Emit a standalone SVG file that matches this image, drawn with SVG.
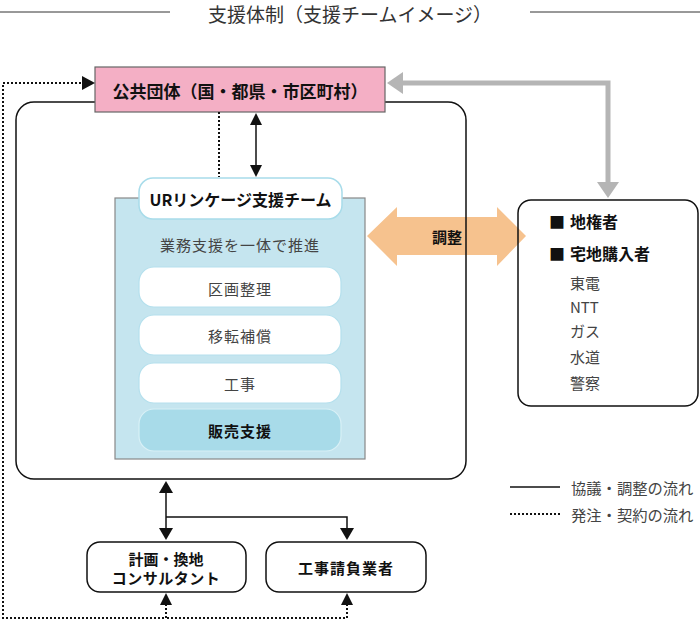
<svg xmlns="http://www.w3.org/2000/svg" width="700" height="620" viewBox="0 0 700 620">
<style>
text{font-family:"Noto Sans CJK JP","Noto Sans",sans-serif;dominant-baseline:central;}
.b{font-weight:bold;fill:#111;}
.r{fill:#444;}
.c{text-anchor:middle;}
.ln{stroke:#111;stroke-width:1.5;fill:none;}
.dot{stroke:#111;stroke-width:2;stroke-dasharray:2 2;fill:none;}
.hd{fill:#111;}
.sub{fill:#fff;stroke:#b5e0ed;stroke-width:1.2;}
</style>
<rect width="700" height="620" fill="#fff"/>
<g id="title">
<line x1="0" y1="12" x2="170" y2="12" stroke="#333" stroke-width="1"/>
<line x1="530" y1="12" x2="700" y2="12" stroke="#333" stroke-width="1"/>
<text x="350" y="13" class="c" font-size="19" fill="#333">支援体制（支援チームイメージ）</text>
</g>
<g id="coordination-arrow">
<polygon points="367,236 397,207 397,217 497,217 497,207 526,236 497,266 497,255 397,255 397,266" fill="#f6c28e"/>
<text x="447" y="236" class="b c" font-size="15">調整</text>
</g>
<g id="ur-frame">
<rect x="16" y="102" width="450" height="377" rx="18" class="ln"/>
</g>
<g id="public-body">
<rect x="95" y="67" width="290" height="45" fill="#f4afc5" stroke="#666" stroke-width="1.2"/>
<text x="240" y="90" class="b c" font-size="17">公共団体（国・都県・市区町村）</text>
</g>
<g id="ur-team">
<rect x="115" y="198" width="250" height="261" fill="#c5e5ef" stroke="#888" stroke-width="1.2"/>
<rect x="139" y="178" width="203" height="41" rx="14" fill="#fff" stroke="#a8dcea" stroke-width="1.5"/>
<text x="240.5" y="199" class="b c" font-size="16">URリンケージ支援チーム</text>
<text x="240" y="244" class="r c" font-size="15" letter-spacing="1">業務支援を一体で推進</text>
</g>
<g id="task-kukaku">
<rect x="139" y="267" width="202" height="40" rx="15" class="sub"/>
<text x="240" y="288" class="r c" font-size="15" letter-spacing="1">区画整理</text>
</g>
<g id="task-iten">
<rect x="139" y="315" width="202" height="40" rx="15" class="sub"/>
<text x="240" y="335" class="r c" font-size="15" letter-spacing="1">移転補償</text>
</g>
<g id="task-koji">
<rect x="139" y="363" width="202" height="40" rx="15" class="sub"/>
<text x="240" y="383" class="r c" font-size="15" letter-spacing="1">工事</text>
</g>
<g id="task-hanbai">
<rect x="139" y="409" width="202" height="42" rx="15" fill="#a8dbe9" stroke="#d8f0f6" stroke-width="1.2"/>
<text x="240" y="430" class="b c" font-size="15" letter-spacing="1">販売支援</text>
</g>
<g id="stakeholders">
<rect x="518" y="200" width="180" height="206" rx="13" class="ln"/>
<text x="550" y="221" class="b" font-size="16"><tspan x="549">■</tspan><tspan x="570">地権者</tspan></text>
<text x="550" y="253" class="b" font-size="16"><tspan x="549">■</tspan><tspan x="570">宅地購入者</tspan></text>
<text x="570" y="282" class="r" font-size="15">東電</text>
<text x="570" y="306" class="r" font-size="15">NTT</text>
<text x="570" y="330" class="r" font-size="15">ガス</text>
<text x="570" y="356" class="r" font-size="15">水道</text>
<text x="570" y="382" class="r" font-size="15">警察</text>
</g>
<g id="consultant">
<rect x="87" y="542" width="159" height="50" rx="13" class="ln"/>
<text x="166" y="558" class="b c" font-size="15">計画・換地</text>
<text x="166" y="577" class="b c" font-size="15" letter-spacing="0.5">コンサルタント</text>
</g>
<g id="contractor">
<rect x="266" y="542" width="160" height="50" rx="13" class="ln"/>
<text x="346" y="567" class="b c" font-size="15" letter-spacing="1">工事請負業者</text>
</g>
<g id="connectors">
<line x1="219" y1="112" x2="219" y2="177" class="dot"/>
<line x1="256" y1="124" x2="256" y2="166" class="ln"/>
<polygon points="256,113 250,125 262,125" class="hd"/>
<polygon points="256,177 250,165 262,165" class="hd"/>
<path d="M608 185 L608 83 L401 83" fill="none" stroke="#b5b5b5" stroke-width="5"/>
<polygon points="387,83 403,72 403,94" fill="#b5b5b5"/>
<polygon points="608,198 597,182 619,182" fill="#b5b5b5"/>
<line x1="166" y1="490" x2="166" y2="530" class="ln"/>
<polygon points="166,481 159,493 173,493" class="hd"/>
<polygon points="166,540 159,528 173,528" class="hd"/>
<path d="M166 517 L347 517 L347 530" class="ln"/>
<polygon points="347,540 340,528 354,528" class="hd"/>
<path d="M166 604 L166 618 L3 618 L3 83 L84 83" class="dot"/>
<path d="M347 604 L347 618 L166 618" class="dot"/>
<polygon points="95,83 82,76 82,90" class="hd"/>
<polygon points="166,593 160,605 172,605" class="hd"/>
<polygon points="347,593 341,605 353,605" class="hd"/>
</g>
<g id="legend">
<line x1="510" y1="487" x2="560" y2="487" class="ln"/>
<text x="571" y="487" class="r" font-size="15.3">協議・調整の流れ</text>
<line x1="510" y1="514" x2="560" y2="514" class="dot"/>
<text x="571" y="514" class="r" font-size="15.3">発注・契約の流れ</text>
</g>
</svg>
